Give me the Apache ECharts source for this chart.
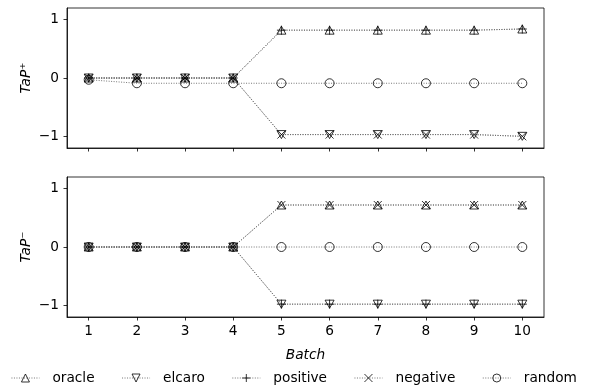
<!DOCTYPE html>
<html>
<head>
<meta charset="utf-8">
<script src="https://cdn.jsdelivr.net/npm/echarts@6/dist/echarts.min.js"></script>
<style>
  html, body { margin: 0; padding: 0; background: #fff; }
  #chart { width: 596px; height: 386px; }
</style>
</head>
<body>
<div id="chart"></div>
<script>
// Batches on the shared x axis
const batches = [1, 2, 3, 4, 5, 6, 7, 8, 9, 10];
const yTicks = [-1, 0, 1];

// TaP+ per strategy
const tapPlusOracle   = [0, 0, 0, 0, 0.82, 0.82, 0.82, 0.82, 0.82, 0.84];
const tapPlusElcaro   = [0, 0, 0, 0, -0.97, -0.97, -0.97, -0.97, -0.97, -1.0];
const tapPlusPositive = [0, 0, 0, 0, 0.82, 0.82, 0.82, 0.82, 0.82, 0.84];
const tapPlusNegative = [0, 0, 0, 0, -0.97, -0.97, -0.97, -0.97, -0.97, -1.0];
const tapPlusRandom   = [-0.03, -0.09, -0.09, -0.09, -0.09, -0.09, -0.09, -0.09, -0.09, -0.09];

// TaP- per strategy
const tapMinusOracle   = [0, 0, 0, 0, 0.72, 0.72, 0.72, 0.72, 0.72, 0.72];
const tapMinusElcaro   = [0, 0, 0, 0, -0.98, -0.98, -0.98, -0.98, -0.98, -0.98];
const tapMinusPositive = [0, 0, 0, 0, -0.98, -0.98, -0.98, -0.98, -0.98, -0.98];
const tapMinusNegative = [0, 0, 0, 0, 0.72, 0.72, 0.72, 0.72, 0.72, 0.72];
const tapMinusRandom   = [0, 0, 0, 0, 0, 0, 0, 0, 0, 0];

const seriesNames = ['oracle', 'elcaro', 'positive', 'negative', 'random'];

// Marker shapes, drawn as hollow outlines
const markers = {
  oracle:   { symbol: 'path://M5,0L10,8.66L0,8.66Z', size: [9, 8] },
  elcaro:   { symbol: 'path://M0,0L10,0L5,8.66Z', size: [9, 8] },
  positive: { symbol: 'path://M5,0L5,10M0,5L10,5', size: [9, 9] },
  negative: { symbol: 'path://M0,0L10,10M10,0L0,10', size: [8, 8] },
  random:   { symbol: 'circle', size: 9 }
};

const FONT = 'DejaVu Sans';
const FS = 13.7;
const fmt = v => (v < 0 ? '\u2212' + Math.abs(v) : String(v));

function makeSeries(name, values, idx) {
  const m = markers[name];
  return {
    name: name,
    type: 'line',
    xAxisIndex: idx,
    yAxisIndex: idx,
    data: batches.map((b, i) => [b, values[i]]),
    symbol: m.symbol,
    symbolSize: m.size,
    showAllSymbol: true,
    animation: false,
    lineStyle: { color: '#666', width: 0.9, type: [1, 1.5] },
    itemStyle: { color: 'rgba(0,0,0,0)', borderColor: '#000', borderWidth: 0.8 },
    emphasis: { disabled: true }
  };
}

function xAxis(idx, withLabels) {
  return {
    type: 'value',
    gridIndex: idx,
    min: 0.55,
    max: 10.45,
    splitLine: { show: false },
    axisLine: { show: true, onZero: false, lineStyle: { color: '#000', width: 0.8 } },
    axisTick: { show: true, inside: false, length: 3.5, customValues: batches, lineStyle: { color: '#000', width: 0.8 } },
    axisLabel: { show: withLabels, customValues: batches, margin: 7, color: '#000', fontFamily: FONT, fontSize: FS },
    name: withLabels ? 'Batch' : '',
    nameLocation: 'middle',
    nameGap: 31,
    nameMoveOverlap: false,
    nameTextStyle: { color: '#000', fontFamily: FONT, fontSize: FS, fontStyle: 'italic' }
  };
}

function yAxis(idx, label) {
  return {
    type: 'value',
    gridIndex: idx,
    min: -1.2,
    max: 1.2,
    splitLine: { show: false },
    axisLine: { show: true, onZero: false, lineStyle: { color: '#000', width: 0.8 } },
    axisTick: { show: true, inside: false, length: 3.5, customValues: yTicks, lineStyle: { color: '#000', width: 0.8 } },
    axisLabel: { customValues: yTicks, formatter: fmt, margin: 8, color: '#000', fontFamily: FONT, fontSize: FS },
    name: label,
    nameLocation: 'middle',
    nameRotate: 90,
    nameGap: 34,
    nameMoveOverlap: false,
    nameTextStyle: { color: '#000', fontFamily: FONT, fontSize: FS, fontStyle: 'italic' }
  };
}

const upper = [tapPlusOracle, tapPlusElcaro, tapPlusPositive, tapPlusNegative, tapPlusRandom];
const lower = [tapMinusOracle, tapMinusElcaro, tapMinusPositive, tapMinusNegative, tapMinusRandom];

const series = [];
seriesNames.forEach((n, i) => series.push(makeSeries(n, upper[i], 0)));
seriesNames.forEach((n, i) => series.push(makeSeries(n, lower[i], 1)));

const chart = echarts.init(document.getElementById('chart'), null, { renderer: 'canvas' });
chart.setOption({
  animation: false,
  backgroundColor: '#fff',
  grid: [
    { left: 67, top: 8, width: 477, height: 140, show: true, borderColor: '#000', borderWidth: 0.8, backgroundColor: 'transparent' },
    { left: 67, top: 177, width: 477, height: 140, show: true, borderColor: '#000', borderWidth: 0.8, backgroundColor: 'transparent' }
  ],
  xAxis: [xAxis(0, false), xAxis(1, true)],
  yAxis: [yAxis(0, 'TaP\u207A'), yAxis(1, 'TaP\u207B')],
  legend: {
    data: seriesNames,
    left: 11,
    top: 371,
    padding: 0,
    itemWidth: 28,
    itemHeight: 10,
    itemGap: 27,
    selectedMode: false,
    itemStyle: { color: 'rgba(0,0,0,0)', borderColor: '#000', borderWidth: 0.8 },
    lineStyle: { color: '#666', width: 0.9, type: [1, 1.5] },
    textStyle: { color: '#000', fontFamily: FONT, fontSize: FS, padding: [0, 0, 0, 8] }
  },
  series: series
});
</script>
</body>
</html>
